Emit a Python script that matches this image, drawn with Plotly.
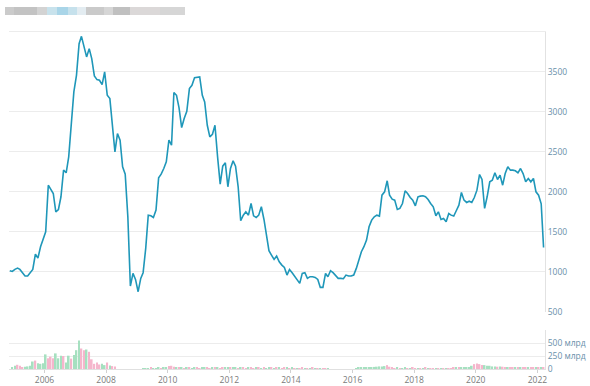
import pandas as pd
import plotly.graph_objects as go

# ---------------- data ----------------
start_month = "2004-11-01"
n_months = 209

price = [
    1013, 1004, 1030, 1046, 1029, 980, 946, 946, 985, 1029,
    1221, 1171, 1313, 1400, 1500, 2083, 2030, 1979, 1750, 1779,
    1938, 2271, 2238, 2438, 2854, 3250, 3458, 3854, 3946, 3813,
    3688, 3792, 3667, 3450, 3404, 3396, 3342, 3500, 3208, 3167,
    2813, 2500, 2729, 2646, 2313, 2221, 1688, 821, 979, 904,
    750, 917, 988, 1292, 1708, 1700, 1679, 1771, 2175, 2221,
    2292, 2375, 2646, 2583, 3242, 3208, 3050,
    2804, 2917, 3008, 3292, 3333, 3429, 3438, 3438, 3208, 3125,
    2833, 2688, 2721, 2833, 2438, 2096, 2321, 2363, 2063, 2292,
    2388, 2321, 2063, 1638, 1708, 1750, 1708, 1854, 1700, 1679,
    1708, 1813, 1654, 1438, 1263, 1208, 1154, 1196, 1125, 1083,
    1054, 958, 1029, 988, 938, 904, 854, 979, 988, 917,
    938, 938, 929, 904, 804, 804, 979, 938, 1013, 988,
    958, 917, 917, 913, 958, 946, 946, 958, 1042, 1154,
    1250, 1313, 1396, 1563, 1646, 1688, 1708,
    1696, 1958, 2000, 2138, 1958, 1908, 1896, 1779, 1792, 1854,
    2013, 1979, 1929, 1896, 1825, 1938, 1946, 1950, 1938, 1904,
    1854, 1813, 1700, 1750, 1654, 1667, 1625, 1729, 1708, 1696,
    1763, 1833, 1992, 1896, 1867, 1883, 1867, 1929, 2021, 2217,
    2154, 1792, 1938, 2125, 2146, 2238, 2154, 2208, 2083, 2229,
    2313, 2271, 2271, 2263, 2238, 2292, 2229, 2125, 2167, 2125,
    2167, 2000, 1958, 1850, 1304,
]

volume_bn = [
    0, 37, 62, 81, 62, 37, 44, 50, 62, 144,
    162, 112, 100, 112, 281, 206, 237, 206, 300, 206,
    256, 250, 125, 256, 200, 269, 362, 550, 394, 362,
    375, 331, 187, 100, 125, 87, 100, 75, 125, 69,
    56, 50,
    0, 0, 0, 0, 0, 0, 0, 0, 0, 0,
    15, 19, 19, 22, 19, 19, 22, 19, 25, 31, 56, 62, 44, 31,
    25, 22, 19, 25, 22, 19, 22, 25, 19, 22,
    25, 22, 19, 25, 31, 22, 19, 25, 22, 25,
    31, 25, 22, 19, 25, 22, 19, 22, 25, 19,
    22, 25, 19, 22, 19, 25, 22, 19, 22, 25,
    19, 22, 25, 19, 22, 19, 16, 19, 22, 19,
    16, 19, 22, 16, 19, 16, 19, 16, 19,
    0, 0, 0, 0, 0, 0, 0, 0, 0, 0,
    19, 22, 25, 25, 28, 31, 31,
    40, 44, 50, 50, 56, 75, 44,
    22, 19, 22, 19, 19, 22, 16, 19, 22, 19, 19, 16, 19, 22, 19, 16, 19, 19, 16, 19, 16, 19,
    12, 19, 22, 25, 22, 28, 25, 31, 25,
    62, 94, 106, 94, 75, 75, 62, 62, 50, 50, 44, 50, 44,
    31, 31, 37, 31, 31, 28, 31, 31, 28, 31, 31, 37, 31, 28, 31, 37,
]

# g = green (up) bar, p = pink (down) bar
volume_dir = "".join([
    "gggpppgggg", "pggggpppgg", "gpggpgggpp", "gpppppggpg", "pp",
    "gggggggggg",
    "gggpgggpgg", "pppg",
    "pgpgpggppg", "gppgpgppgg", "pggpgppgpp", "gpgpggpgpg", "ppgpgpgppg", "pgpgpgppg",
    "gggggggggg",
    "ggggggg",
    "gggggpp",
    "ppgpggpgppgpgpgppgpgpg",
    "pppgpgggg",
    "gppppgggggpgp",
    "pgppgpgppgppgpgp",
])

price_ticks = [500, 1000, 1500, 2000, 2500, 3000, 3500, 4000]
price_tick_text = ["500", "1000", "1500", "2000", "2500", "3000", "3500", ""]
vol_ticks = [0, 250, 500, 750]
vol_tick_text = ["0", "250 млрд", "500 млрд", ""]

# ---------------- figure ----------------
dates = pd.date_range(start_month, periods=n_months, freq="MS") + pd.Timedelta(days=14)
bar_colors = ["#a6e0c0" if d == "g" else "#f5b6cc" for d in volume_dir]

W, H = 590, 386
ML, MR, MT, MB = 9, 45, 32, 17
pw, ph = W - ML - MR, H - MT - MB

def py(y):
    return (H - MB - y) / ph

fig = go.Figure()
fig.add_trace(go.Scatter(
    x=dates, y=price, mode="lines",
    line=dict(color="#1f97b9", width=1.6),
    xaxis="x", yaxis="y", hoverinfo="skip",
))
fig.add_trace(go.Bar(
    x=dates, y=volume_bn, marker=dict(color=bar_colors, line=dict(width=0)),
    xaxis="x2", yaxis="y2", hoverinfo="skip",
))

xr = ["2004-11-06", "2022-04-01"]
grid = "#ececec"
lab_font = dict(family="Open Sans", size=8.5, color="#6a90aa")

fig.update_layout(
    width=W, height=H,
    margin=dict(l=ML, r=MR, t=MT, b=MB, pad=0, autoexpand=False),
    paper_bgcolor="white", plot_bgcolor="white",
    showlegend=False, bargap=0.3, hovermode=False,
    xaxis=dict(range=xr, domain=[0, 1], anchor="y", type="date",
               showticklabels=False, showgrid=False, zeroline=False,
               side="top", showline=True, linecolor=grid, linewidth=1,
               matches="x2", automargin=False),
    yaxis=dict(domain=[py(311.7), 1], range=[500, 4000], side="right",
               tickvals=price_ticks, ticktext=price_tick_text,
               showgrid=True, gridcolor=grid, gridwidth=1, zeroline=False,
               showline=True, linecolor="#e2e2e2", linewidth=1,
               ticks="", tickfont=lab_font, anchor="x", automargin=False),
    xaxis2=dict(range=xr, domain=[0, 1], anchor="y2", type="date",
                tick0="2006-01-01", dtick="M24", tickformat="%Y",
                showgrid=False, zeroline=False,
                showline=True, linecolor="#e0e0e0", linewidth=1,
                ticks="outside", ticklen=3, tickcolor="#d0d0d0",
                tickfont=dict(family="Open Sans", size=8.5, color="#7a7a7a"),
                automargin=False),
    yaxis2=dict(domain=[0, py(330)], range=[0, 750], side="right",
                tickvals=vol_ticks, ticktext=vol_tick_text,
                showgrid=True, gridcolor=grid, gridwidth=1, zeroline=False,
                showline=True, linecolor="#e2e2e2", linewidth=1,
                ticks="", tickfont=lab_font, anchor="x2", automargin=False),
)

# blurred (pixelated) title block in the top-left corner
title_blocks = [
    (5, 14, "#cbcbcb"), (14, 37, "#c3c3c3"), (37, 47, "#d3d3d3"),
    (47, 57, "#c8e2ec"), (57, 68, "#a9d5e8"), (68, 77, "#c6e1ec"),
    (77, 86, "#e3ecf1"), (86, 104, "#cacaca"), (104, 113, "#d6d6d6"),
    (113, 130, "#c0c0c0"), (130, 160, "#dbd8d8"), (160, 185, "#d6d6d6"),
]
for x0, x1, col in title_blocks:
    fig.add_shape(type="rect", xref="paper", yref="paper",
                  x0=(x0 - ML) / pw, x1=(x1 - ML) / pw,
                  y0=py(15), y1=py(7), fillcolor=col, line=dict(width=0),
                  layer="above")

fig.write_html("out.html", config={"displayModeBar": False},
               post_script="document.body.style.margin='0';document.body.style.overflow='hidden';")
